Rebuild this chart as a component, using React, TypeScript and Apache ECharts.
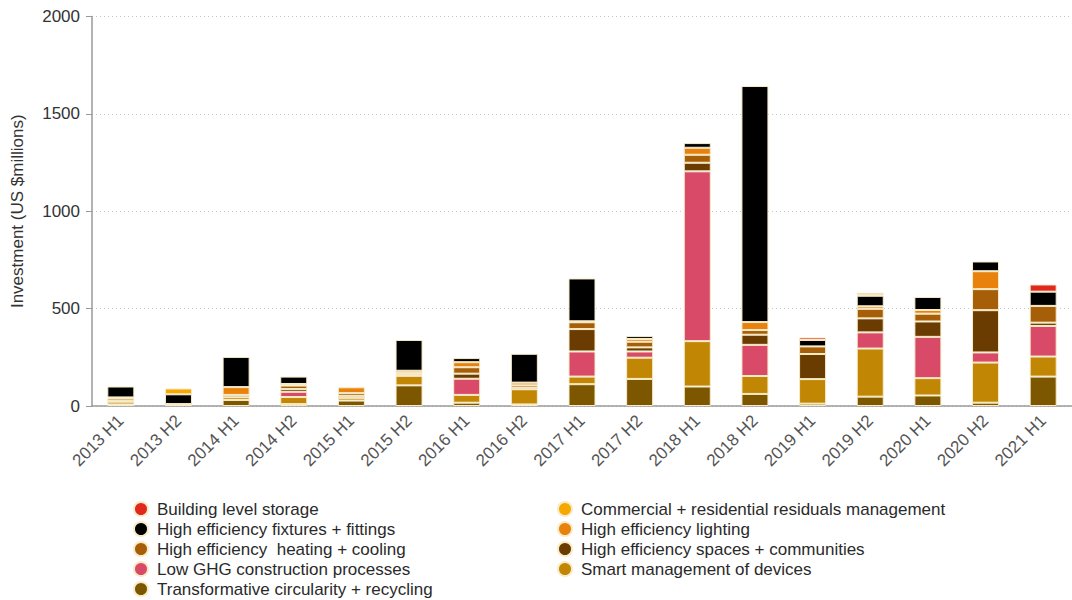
import React, { useEffect, useRef } from "react";
import * as echarts from "echarts";

const categories = [
  "2013 H1", "2013 H2", "2014 H1", "2014 H2", "2015 H1", "2015 H2",
  "2016 H1", "2016 H2", "2017 H1", "2017 H2", "2018 H1", "2018 H2",
  "2019 H1", "2019 H2", "2020 H1", "2020 H2", "2021 H1",
];

// stacked bottom -> top
const transformative = [8, 5, 31, 10, 28, 106, 17, 8, 112, 139, 100, 62, 12, 48, 54, 17, 151];
const smartManagement = [14, 5, 14, 36, 14, 49, 40, 78, 39, 109, 233, 92, 126, 247, 89, 206, 103];
const lowGhg = [0, 0, 0, 27, 0, 0, 83, 0, 129, 32, 872, 160, 0, 83, 212, 52, 157];
const spaces = [4, 0, 0, 14, 10, 6, 26, 8, 115, 21, 44, 52, 129, 72, 79, 217, 17];
const heating = [12, 0, 12, 18, 14, 8, 33, 12, 35, 29, 41, 24, 39, 49, 40, 108, 86];
const lighting = [6, 0, 40, 8, 30, 12, 26, 14, 5, 14, 36, 41, 0, 13, 19, 92, 0];
const fixtures = [56, 50, 155, 38, 0, 158, 21, 148, 220, 15, 24, 1212, 33, 54, 67, 50, 73];
const commercial = [0, 30, 0, 0, 0, 0, 0, 0, 0, 0, 0, 0, 0, 5, 0, 0, 0];
const storage = [0, 0, 0, 0, 0, 0, 0, 0, 0, 0, 0, 0, 13, 10, 0, 0, 37];

const yTicks = [0, 500, 1000, 1500, 2000];

const seriesDefs = [
  { name: "Transformative circularity + recycling", data: transformative, color: "#7d5700" },
  { name: "Smart management of devices", data: smartManagement, color: "#c08604" },
  { name: "Low GHG construction processes", data: lowGhg, color: "#d94a68" },
  { name: "High efficiency spaces + communities", data: spaces, color: "#6a3c02" },
  { name: "High efficiency  heating + cooling", data: heating, color: "#a65f08" },
  { name: "High efficiency lighting", data: lighting, color: "#e8820c" },
  { name: "High efficiency fixtures + fittings", data: fixtures, color: "#000000" },
  { name: "Commercial + residential residuals management", data: commercial, color: "#f7a800" },
  { name: "Building level storage", data: storage, color: "#e0281e" },
];

const legendLeft = [
  "Building level storage",
  "High efficiency fixtures + fittings",
  "High efficiency  heating + cooling",
  "Low GHG construction processes",
  "Transformative circularity + recycling",
];
const legendRight = [
  "Commercial + residential residuals management",
  "High efficiency lighting",
  "High efficiency spaces + communities",
  "Smart management of devices",
];

const FONT = "Helvetica, Arial, 'Liberation Sans', sans-serif";

export default function App() {
  const ref = useRef<HTMLDivElement>(null);
  useEffect(() => {
    if (!ref.current) return;
    const chart = echarts.init(ref.current, undefined, { renderer: "svg" });
    const legendCommon = {
      orient: "vertical" as const,
      top: 500,
      height: 100,
      padding: 0,
      icon: "circle",
      itemWidth: 14,
      itemHeight: 14,
      itemGap: 2,
      selectedMode: false,
      textStyle: {
        fontFamily: FONT,
        fontSize: 17,
        lineHeight: 18,
        color: "#2a2a2a",
        padding: [0, 0, 0, 4],
      },
    };
    chart.setOption({
      animation: false,
      textStyle: { fontFamily: FONT },
      grid: { left: 92, top: 16.5, width: 983, height: 389.5, containLabel: false },
      legend: [
        { ...legendCommon, left: 133, data: legendLeft },
        { ...legendCommon, left: 557, data: legendRight },
      ],
      xAxis: {
        type: "category",
        data: categories,
        axisLine: { show: true, lineStyle: { color: "#9a9a9a", width: 1.5 } },
        axisTick: { show: false },
        axisLabel: {
          rotate: 45,
          margin: 12,
          fontSize: 17,
          color: "#555",
          fontFamily: FONT,
          interval: 0,
        },
      },
      yAxis: {
        type: "value",
        min: yTicks[0],
        max: yTicks[yTicks.length - 1],
        interval: 500,
        name: "Investment (US $millions)",
        nameLocation: "middle",
        nameRotate: 90,
        nameGap: 66,
        nameTextStyle: { fontSize: 17, color: "#333", fontFamily: FONT },
        axisLine: { show: true, lineStyle: { color: "#9a9a9a", width: 1.5 } },
        axisTick: { show: true, length: 6, lineStyle: { color: "#9a9a9a" } },
        axisLabel: {
          fontSize: 17,
          color: "#333",
          margin: 12,
          fontFamily: FONT,
          formatter: (v: number) => String(v),
        },
        splitLine: { show: true, lineStyle: { color: "#c8c8c8", type: [1, 3] } },
      },
      series: seriesDefs.map((s) => ({
        name: s.name,
        type: "bar",
        stack: "total",
        barWidth: 27,
        itemStyle: { color: s.color, borderColor: "#f7ebc8", borderWidth: 1 },
        emphasis: { disabled: true },
        data: s.data.map((v) => (v === 0 ? null : v)),
      })),
    });
    return () => chart.dispose();
  }, []);
  return (
    <div
      ref={ref}
      style={{ position: "absolute", left: 0, top: 0, width: 1072, height: 600, background: "#fff" }}
    />
  );
}
